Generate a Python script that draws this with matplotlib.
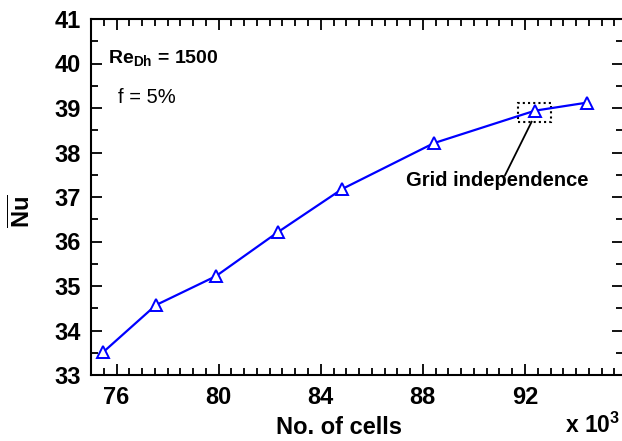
import numpy as np
import matplotlib.pyplot as plt
from matplotlib.ticker import MultipleLocator
from matplotlib.patches import Rectangle

plt.rcParams['font.family'] = ['Liberation Sans', 'DejaVu Sans']
plt.rcParams['mathtext.fontset'] = 'custom'
plt.rcParams['mathtext.rm'] = 'Liberation Sans'
plt.rcParams['mathtext.bf'] = 'Liberation Sans:bold'

# data (cells in thousands, mean Nusselt number)
cells = [75.47, 77.54, 79.89, 82.32, 84.84, 88.43, 92.39, 94.42]
nu = [33.51, 34.57, 35.22, 36.21, 37.18, 38.21, 38.94, 39.12]
x_ticks = [76, 80, 84, 88, 92]
y_ticks = [33, 34, 35, 36, 37, 38, 39, 40, 41]

W, H = 622, 441
fig = plt.figure(figsize=(W / 100, H / 100), dpi=100)
ax = fig.add_axes([91 / W, 1 - 375 / H, (623 - 91) / W, (375 - 19) / H])

ax.plot(cells, nu, color='blue', lw=1.6, marker='^', ms=9,
        mfc='white', mec='blue', mew=1.4)

ax.set_xlim(75, 95.84)
ax.set_ylim(33, 41)
ax.set_xticks(x_ticks)
ax.set_yticks(y_ticks)
ax.xaxis.set_minor_locator(MultipleLocator(0.5))
ax.yaxis.set_minor_locator(MultipleLocator(0.5))
ax.tick_params(which='both', direction='in', top=True, right=True, width=1.3)
ax.tick_params(which='major', length=8, labelsize=17)
ax.tick_params(which='minor', length=5)
ax.tick_params(axis='x', which='major', pad=8)
ax.tick_params(axis='y', which='major', pad=7)
for lab in ax.get_xticklabels() + ax.get_yticklabels():
    lab.set_fontweight('bold')
for s in ax.spines.values():
    s.set_linewidth(1.5)

fig.text(339 / W, 1 - 427 / H, 'No. of cells', ha='center', va='center',
         fontsize=17, fontweight='bold')
fig.text(620 / W, 3 / H, r'x 10$^{\mathbf{3}}$', ha='right', va='bottom',
         fontsize=16.5, fontweight='bold')
fig.text(22 / W, 1 - 211 / H, r'$\overline{\mathbf{Nu}}$', rotation=90,
         ha='center', va='center', fontsize=17)

ax.text(75.67, 40.01, r'$\mathbf{Re_{Dh}}$ = 1500', fontsize=14,
        fontweight='bold', va='baseline')
ax.text(76.06, 39.11, 'f = 5%', fontsize=14.5, va='baseline')

ax.add_patch(Rectangle((91.74, 38.69), 1.28, 0.43, fill=False,
                       ls=(0, (1, 1.5)), lw=1.5, color='black'))
ax.plot([92.26, 91.22], [38.69, 37.49], color='black', lw=1.3)
ax.text(90.92, 37.36, 'Grid independence', ha='center', va='center',
        fontsize=14.5, fontweight='bold')

fig.savefig('out.png', dpi=100)
